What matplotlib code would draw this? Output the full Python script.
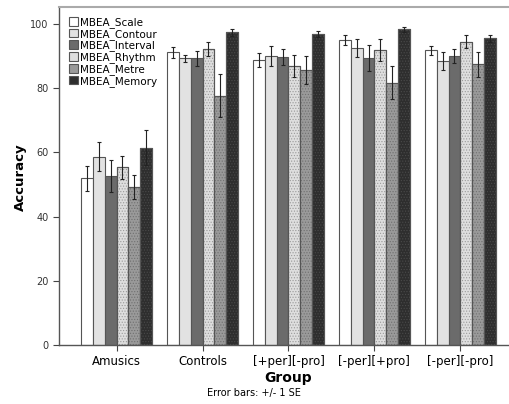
import numpy as np
import matplotlib
matplotlib.use("Agg")
import matplotlib.pyplot as plt

groups = ["Amusics", "Controls", "[+per][-pro]", "[-per][+pro]", "[-per][-pro]"]
series = ["MBEA_Scale", "MBEA_Contour", "MBEA_Interval", "MBEA_Rhythm", "MBEA_Metre", "MBEA_Memory"]

scale = [51.9, 91.2, 88.8, 95.0, 91.9]
contour = [58.7, 89.3, 90.1, 92.4, 88.5]
interval = [52.7, 89.3, 89.8, 89.5, 90.0]
rhythm = [55.3, 92.2, 86.9, 91.9, 94.5]
metre = [49.3, 77.7, 85.7, 81.7, 87.5]
memory = [61.5, 97.4, 96.8, 98.3, 95.5]

scale_se = [4.0, 1.7, 2.2, 1.6, 1.4]
contour_se = [4.6, 1.2, 3.1, 2.8, 2.8]
interval_se = [5.0, 2.3, 2.5, 4.0, 2.2]
rhythm_se = [3.7, 2.2, 3.3, 3.3, 2.1]
metre_se = [3.8, 6.8, 4.4, 5.2, 3.9]
memory_se = [5.5, 1.0, 1.0, 0.7, 1.1]

values = [scale, contour, interval, rhythm, metre, memory]
errors = [scale_se, contour_se, interval_se, rhythm_se, metre_se, memory_se]

# fill colour, hatch pattern, hatch colour
styles = [
    ("#ffffff", None, None),
    ("#e2e2e2", None, None),
    ("#6b6b6b", None, None),
    ("#dedede", "......", "#9a9a9a"),
    ("#9a9a9a", "......", "#707070"),
    ("#2e2e2e", "......", "#4a4a4a"),
]

plt.rcParams['font.family'] = ['DejaVu Sans']
plt.rcParams['hatch.linewidth'] = 0.5

fig = plt.figure(figsize=(5.09, 4.04), dpi=100)
ax = fig.add_axes([59 / 509, 1 - 345 / 404, 450 / 509, 338 / 404])

x = np.arange(len(groups))
w = 0.137
for i, (vals, errs) in enumerate(zip(values, errors)):
    fc, hatch, hc = styles[i]
    pos = x + (i - 2.5) * w
    ax.bar(pos, vals, width=w, color=fc, edgecolor="#555555", linewidth=0.8,
           label=series[i], zorder=2)
    if hatch:
        ax.bar(pos, vals, width=w, color="none", edgecolor=hc, hatch=hatch,
               linewidth=0, zorder=2)
        ax.bar(pos, vals, width=w, color="none", edgecolor="#555555", linewidth=0.8, zorder=2)
    ax.errorbar(pos, vals, yerr=errs, fmt="none", ecolor="#222222", elinewidth=0.8,
                capsize=1.5, capthick=0.8, zorder=3)

ax.set_xlim(-0.67, 4.566)
ax.set_ylim(0, 105.3)
ax.set_yticks([0, 20, 40, 60, 80, 100])
ax.set_xticks(x)
ax.set_xticklabels(groups, fontsize=8.5)
ax.tick_params(axis="y", labelsize=7, length=4, color="#444444", labelcolor="#333333")
ax.tick_params(axis="x", length=4, color="#444444", pad=3)

for s in ["left", "bottom"]:
    ax.spines[s].set_color("#555555")
    ax.spines[s].set_linewidth(1.0)
ax.spines["top"].set_color("#aaaaaa")
ax.spines["top"].set_linewidth(1.5)
ax.spines["right"].set_visible(False)

fig.text(20 / 509, 1 - 177 / 404, "Accuracy", rotation=90, ha="center", va="center",
         fontsize=9.5, fontweight="bold")
fig.text(288 / 509, 1 - 378 / 404, "Group", ha="center", va="center",
         fontsize=10, fontweight="bold")
fig.text(254 / 509, 1 - 393 / 404, "Error bars: +/- 1 SE", ha="center", va="center",
         fontsize=7)

handles, labels = ax.get_legend_handles_labels()
leg = ax.legend(handles[:6], labels[:6], loc="upper left", bbox_to_anchor=(0.0, 1.0),
                frameon=False, fontsize=7.5, handlelength=0.9, handleheight=0.9,
                handletextpad=0.2, labelspacing=0.08, borderaxespad=0.55)

fig.savefig("out.png", dpi=100)
